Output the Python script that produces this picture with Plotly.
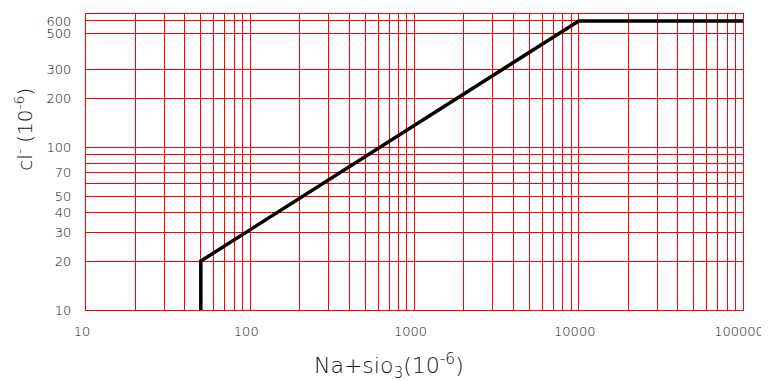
import plotly.graph_objects as go

# Data
x_vals = [50, 50, 10000, 100000]
y_vals = [10, 20, 600, 600]

# Axis grid / tick definitions
x_tickvals = [10, 100, 1000, 10000, 100000]
x_ticktext = ["10", "100", "1000", "10000", "100000"]
x_minorvals = [20, 30, 40, 50, 60, 70, 80, 90,
               200, 300, 400, 500, 600, 700, 800, 900,
               2000, 3000, 4000, 5000, 6000, 7000, 8000, 9000,
               20000, 30000, 40000, 50000, 60000, 70000, 80000, 90000]
y_tickvals = [10, 20, 30, 40, 50, 70, 100, 200, 300, 500, 600]
y_ticktext = ["10", "20", "30", "40", "50", "70", "100", "200", "300", "500", "600"]
y_minorvals = [60, 80, 90]

FONT = "DejaVu Sans"
TXT = "#111111"
RED = "#ff0000"

fig = go.Figure()
fig.add_trace(go.Scatter(
    x=x_vals, y=y_vals, mode="lines",
    line=dict(color="black", width=3.5),
    showlegend=False, hoverinfo="skip",
))

fig.update_layout(
    # page body has an 8px default margin, so the figure is reduced accordingly
    width=761, height=373,
    margin=dict(l=78, r=23, t=5, b=71),
    paper_bgcolor="white", plot_bgcolor="white",
    font=dict(family=FONT, size=13, color=TXT, weight=200),
    xaxis=dict(
        type="log", range=[1, 5],
        tickmode="array", tickvals=x_tickvals, ticktext=x_ticktext,
        showgrid=True, gridcolor=RED, gridwidth=1,
        minor=dict(tickvals=x_minorvals, showgrid=True, gridcolor=RED, gridwidth=1, ticks=""),
        showline=True, linecolor=RED, linewidth=1, mirror=True,
        ticks="", ticklabelstandoff=9, ticklabelshift=-4,
        ticklabeloverflow="allow", zeroline=False,
        tickfont=dict(family=FONT, size=13, color=TXT, weight=200),
    ),
    yaxis=dict(
        type="log", range=[1, 2.821],
        tickmode="array", tickvals=y_tickvals, ticktext=y_ticktext,
        showgrid=True, gridcolor=RED, gridwidth=1,
        minor=dict(tickvals=y_minorvals, showgrid=True, gridcolor=RED, gridwidth=1, ticks=""),
        showline=True, linecolor=RED, linewidth=1, mirror=True,
        ticks="", ticklabelstandoff=11, zeroline=False,
        tickfont=dict(family=FONT, size=13, color=TXT, weight=200),
    ),
    annotations=[
        dict(text="Na+sio<sub>3</sub>(10<sup>-6</sup>)", xref="paper", yref="paper",
             x=0.461, y=-0.19, xanchor="center", yanchor="middle", showarrow=False,
             font=dict(family=FONT, size=22, color=TXT, weight=200)),
        dict(text="cl<sup>-</sup> (10<sup>-6</sup>)", xref="paper", yref="paper",
             x=-0.094, y=0.61, xanchor="center", yanchor="middle", showarrow=False,
             textangle=-90,
             font=dict(family=FONT, size=20, color=TXT, weight=200)),
    ],
)

fig.write_html("out.html")
